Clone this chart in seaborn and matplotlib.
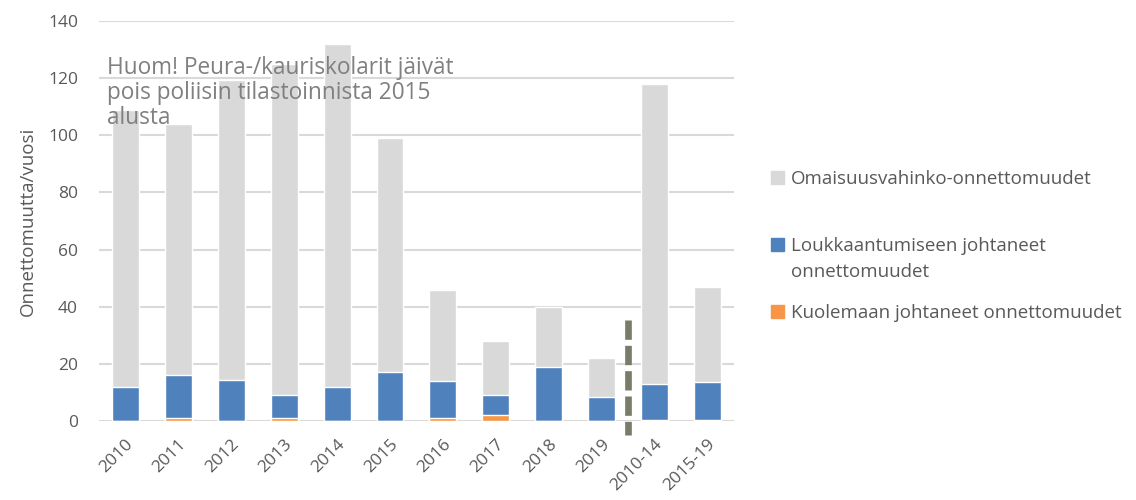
import numpy as np
import pandas as pd
import matplotlib
matplotlib.use("Agg")
import matplotlib.pyplot as plt
import seaborn as sns
from matplotlib.patches import Rectangle

# values
periods = ["2010", "2011", "2012", "2013", "2014", "2015", "2016",
           "2017", "2018", "2019", "2010-14", "2015-19"]
deaths = [0, 1, 0, 1, 0, 0, 1, 2, 0, 0, 0.4, 0.4]
injuries = [12, 15, 14.5, 8, 12, 17, 13, 7, 19, 8.5, 12.6, 13.1]
property_damage = [97, 88, 105, 116, 120, 82, 32, 19, 21, 13.5, 105, 33.5]

labels = ["Omaisuusvahinko-onnettomuudet",
          "Loukkaantumiseen johtaneet\nonnettomuudet",
          "Kuolemaan johtaneet onnettomuudet"]
colors = ["#d9d9d9", "#4f81bd", "#f79646"]

note = "Huom! Peura-/kauriskolarit jäivät\npois poliisin tilastoinnista 2015\nalusta"

df = pd.DataFrame({"period": periods, "deaths": deaths,
                   "injuries": injuries, "property": property_damage})
df["blue_top"] = df["deaths"] + df["injuries"]
df["total"] = df["blue_top"] + df["property"]

sns.set_style("white")
plt.rcParams["font.family"] = ["Open Sans", "DejaVu Sans"]

fig = plt.figure(figsize=(11.36, 5), dpi=100)
ax = fig.add_axes([0.0871, 0.158, 0.559, 0.80])

# stacked bars drawn as overlapping cumulative heights
sns.barplot(data=df, x="period", y="total", color=colors[0], width=0.51,
            saturation=1, ax=ax, zorder=2)
sns.barplot(data=df, x="period", y="blue_top", color=colors[1], width=0.51,
            saturation=1, ax=ax, zorder=3)
sns.barplot(data=df, x="period", y="deaths", color=colors[2], width=0.51,
            saturation=1, ax=ax, zorder=4)

ax.set_ylim(0, 140)
ax.set_xlim(-0.5, len(periods) - 0.5)
ax.set_yticks(range(0, 141, 20))
ax.yaxis.grid(True, color="#d9d9d9", linewidth=1.5, zorder=0)
ax.set_axisbelow(True)
for s in ax.spines.values():
    s.set_visible(False)
ax.tick_params(axis="both", length=0, labelsize=12.5, labelcolor="#595959")
ax.tick_params(axis="y", pad=15)
ax.tick_params(axis="x", pad=11)
plt.setp(ax.get_xticklabels(), rotation=45, ha="right", va="top",
         rotation_mode="anchor")
ax.set_xlabel("")
ax.set_ylabel("Onnettomuutta/vuosi", fontsize=13.5, color="#595959", labelpad=8)

# dashed separator between yearly and period averages
ax.plot([9.5, 9.5], [35.5, -5], color="#7b7b6a", lw=4.8,
        ls=(0, (2.9, 0.9)), clip_on=False, zorder=5)

ax.text(0.012, 0.912, note, transform=ax.transAxes, fontsize=16.3,
        color="#808080", va="top", ha="left", linespacing=1.04, zorder=6)

# legend laid out like the original (square beside first text line)
W, H = 1136, 500
leg_y = [178, 245, 312]
for c, lab, y in zip(colors, labels, leg_y):
    fig.patches.append(Rectangle((771 / W, 1 - (y + 6) / H), 13 / W, 13 / H,
                                 transform=fig.transFigure, color=c))
    fig.text(791 / W, 1 - (y - 8) / H, lab, fontsize=13.5, color="#595959",
             va="top", ha="left", linespacing=1.55,
             transform=fig.transFigure)

fig.savefig("out.png", dpi=100)
